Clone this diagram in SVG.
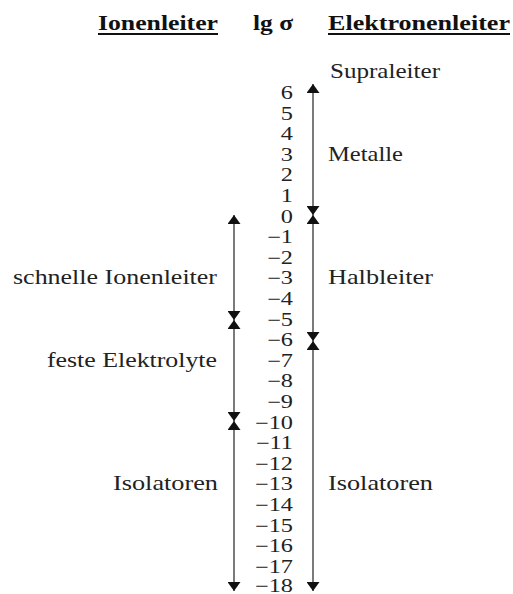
<svg xmlns="http://www.w3.org/2000/svg" width="513" height="594" viewBox="0 0 513 594">
<style>
.h{font-family:"Times New Roman","Liberation Serif",Tinos,"Nimbus Roman",serif;font-weight:bold;font-size:20px;fill:#111}
.l{font-family:"Times New Roman","Liberation Serif",Tinos,"Nimbus Roman",serif;font-size:21px;fill:#222}
.n{font-family:"Times New Roman","Liberation Serif",Tinos,"Nimbus Roman",serif;font-size:18px;fill:#222;text-anchor:end}
.c{stroke:#333;stroke-width:1.3;fill:none;marker-start:url(#ah);marker-end:url(#ah)}
.u{stroke:#111;stroke-width:2}
</style>
<defs>
<marker id="ah" viewBox="0 0 9 13" refX="9" refY="6.5" markerWidth="9" markerHeight="13" markerUnits="userSpaceOnUse" orient="auto-start-reverse">
<path d="M0,0 L9,6.5 L0,13 z" fill="#111"/>
</marker>
</defs>
<g id="header-ionen">
<text class="h" x="98" y="30" textLength="120" lengthAdjust="spacingAndGlyphs">Ionenleiter</text>
<line class="u" x1="98" y1="34" x2="218" y2="34"/>
</g>
<g id="header-lg">
<text class="h" x="253" y="30" textLength="40" lengthAdjust="spacingAndGlyphs">lg σ</text>
</g>
<g id="header-elektronen">
<text class="h" x="328" y="30" textLength="182" lengthAdjust="spacingAndGlyphs">Elektronenleiter</text>
<line class="u" x1="328" y1="34" x2="510" y2="34"/>
</g>
<g id="scale" transform="translate(293,0) scale(1.35,1) translate(-293,0)">
<text class="n" x="293" y="99">6</text>
<text class="n" x="293" y="119.6">5</text>
<text class="n" x="293" y="140.2">4</text>
<text class="n" x="293" y="160.8">3</text>
<text class="n" x="293" y="181.4">2</text>
<text class="n" x="293" y="202">1</text>
<text class="n" x="293" y="222.6">0</text>
<text class="n" x="293" y="243.2">−1</text>
<text class="n" x="293" y="263.8">−2</text>
<text class="n" x="293" y="284.4">−3</text>
<text class="n" x="293" y="305">−4</text>
<text class="n" x="293" y="325.6">−5</text>
<text class="n" x="293" y="346.2">−6</text>
<text class="n" x="293" y="366.8">−7</text>
<text class="n" x="293" y="387.4">−8</text>
<text class="n" x="293" y="408">−9</text>
<text class="n" x="293" y="428.6">−10</text>
<text class="n" x="293" y="449.2">−11</text>
<text class="n" x="293" y="469.8">−12</text>
<text class="n" x="293" y="490.4">−13</text>
<text class="n" x="293" y="511">−14</text>
<text class="n" x="293" y="531.6">−15</text>
<text class="n" x="293" y="552.2">−16</text>
<text class="n" x="293" y="572.8">−17</text>
<text class="n" x="293" y="592.5">−18</text>
</g>
<g id="supraleiter"><text class="l" x="330" y="78" textLength="110" lengthAdjust="spacingAndGlyphs">Supraleiter</text></g>
<g id="metalle"><text class="l" x="328" y="161" textLength="75" lengthAdjust="spacingAndGlyphs">Metalle</text></g>
<g id="halbleiter"><text class="l" x="328" y="284.4" textLength="105" lengthAdjust="spacingAndGlyphs">Halbleiter</text></g>
<g id="isolatoren-e"><text class="l" x="328" y="490.4" textLength="105" lengthAdjust="spacingAndGlyphs">Isolatoren</text></g>
<g id="schnelle-ionenleiter"><text class="l" x="13" y="284.4" textLength="204" lengthAdjust="spacingAndGlyphs">schnelle Ionenleiter</text></g>
<g id="feste-elektrolyte"><text class="l" x="47" y="366.8" textLength="170" lengthAdjust="spacingAndGlyphs">feste Elektrolyte</text></g>
<g id="isolatoren-i"><text class="l" x="113" y="490.4" textLength="105" lengthAdjust="spacingAndGlyphs">Isolatoren</text></g>
<g id="connectors">
<line class="c" x1="313" y1="84" x2="313" y2="215"/>
<line class="c" x1="313" y1="215" x2="313" y2="341"/>
<line class="c" x1="313" y1="341" x2="313" y2="591"/>
<line class="c" x1="234" y1="215" x2="234" y2="320"/>
<line class="c" x1="234" y1="320" x2="234" y2="421"/>
<line class="c" x1="234" y1="421" x2="234" y2="591"/>
</g>
</svg>
